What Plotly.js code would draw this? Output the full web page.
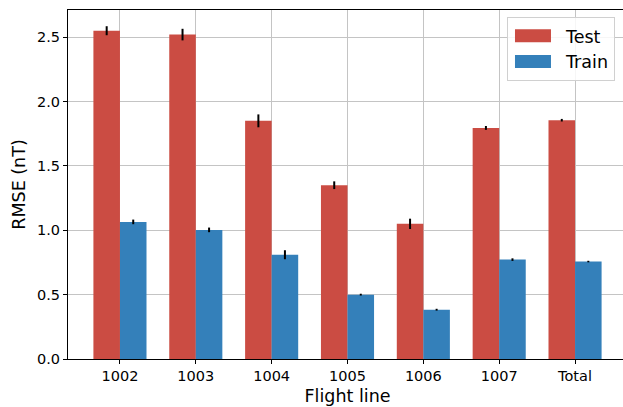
<!DOCTYPE html>
<html>
<head>
<meta charset="utf-8">
<script src="https://cdn.plot.ly/plotly-3.0.1.min.js"></script>
<style>
html, body { margin: 0; padding: 0; overflow: hidden; background: #fff; }
#chart { width: 627px; height: 407px; }
</style>
</head>
<body>
<div id="chart"></div>
<script>
const categories = ["1002", "1003", "1004", "1005", "1006", "1007", "Total"];
const testValues = [2.55, 2.52, 1.85, 1.35, 1.05, 1.795, 1.855];
const testErrors = [0.035, 0.045, 0.05, 0.03, 0.04, 0.015, 0.01];
const trainValues = [1.065, 1.003, 0.81, 0.50, 0.383, 0.772, 0.757];
const trainErrors = [0.018, 0.018, 0.035, 0.007, 0.007, 0.01, 0.006];
const yTicks = [0, 0.5, 1.0, 1.5, 2.0, 2.5];
const yTickLabels = ["0.0", "0.5", "1.0", "1.5", "2.0", "2.5"];

const font = "DejaVu Sans, sans-serif";

const traces = [
  {
    type: "bar", name: "Test", x: categories, y: testValues,
    marker: { color: "#cb4c43", line: { width: 0 } },
    error_y: { type: "data", array: testErrors, visible: true, color: "#000", thickness: 2, width: 0 }
  },
  {
    type: "bar", name: "Train", x: categories, y: trainValues,
    marker: { color: "#3480ba", line: { width: 0 } },
    error_y: { type: "data", array: trainErrors, visible: true, color: "#000", thickness: 2, width: 0 }
  }
];

const layout = {
  width: 627, height: 407,
  margin: { l: 68, r: 0, t: 10, b: 48 },
  paper_bgcolor: "#fff", plot_bgcolor: "#fff",
  font: { family: font, color: "#000", size: 14.5 },
  barmode: "group", bargap: 0.3, bargroupgap: 0,
  xaxis: {
    type: "category", range: [-0.685, 6.685],
    showline: true, linecolor: "#000", linewidth: 1, mirror: true,
    ticks: "outside", ticklen: 4, tickcolor: "#000",
    showgrid: true, gridcolor: "#c4c4c4", gridwidth: 1,
    tickfont: { size: 14.5, family: font },
    title: { text: "Flight line", font: { size: 17.5, family: font }, standoff: 6 },
    zeroline: false
  },
  yaxis: {
    range: [0, 2.711],
    tickvals: yTicks, ticktext: yTickLabels,
    showline: true, linecolor: "#000", linewidth: 1, mirror: true,
    ticks: "outside", ticklen: 4, tickcolor: "#000",
    showgrid: true, gridcolor: "#c4c4c4", gridwidth: 1,
    tickfont: { size: 14.5, family: font },
    title: { text: "RMSE (nT)", font: { size: 17.5, family: font }, standoff: 6 },
    zeroline: false
  },
  showlegend: true,
  legend: {
    x: 0.9785, y: 0.98, xanchor: "right", yanchor: "top",
    bgcolor: "rgba(255,255,255,0.85)", bordercolor: "#d0d0d0", borderwidth: 1,
    font: { size: 17.5, family: font }, tracegroupgap: 0, itemwidth: 48
  }
};

Plotly.newPlot("chart", traces, layout, { staticPlot: true, displayModeBar: false }).then(function (gd) {
  // widen legend patches to look like matplotlib's rectangular handles
  gd.querySelectorAll(".legend .legendpoints path").forEach(function (p) {
    p.setAttribute("d", "M14,6.5H-22V-6.5H14Z");
  });
});
</script>
</body>
</html>
